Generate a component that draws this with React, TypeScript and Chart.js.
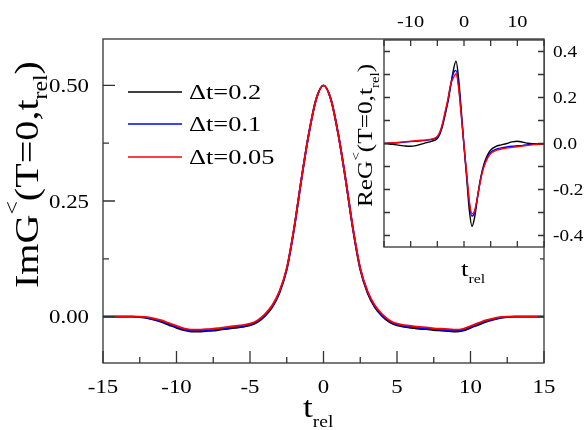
import React, { useEffect, useRef } from "react";
import { Chart, registerables } from "chart.js";

Chart.register(...registerables);

const FONT = "'Liberation Serif', 'Times New Roman', Times, serif";

// ---------- main panel data ----------
const mainT = [
  -15, -14.5, -14, -13.5, -13, -12.5, -12, -11.5, -11, -10.5, -10, -9.5, -9, -8.5, -8, -7.5, -7, -6.5, -6, -5.5,
  -5, -4.5, -4, -3.5, -3, -2.5, -2, -1.5, -1, -0.5, 0, 0.5, 1, 1.5, 2, 2.5, 3, 3.5, 4, 4.5, 5, 5.5, 6, 6.5, 7,
  7.5, 8, 8.5, 9, 9.5, 10, 10.5, 11, 11.5, 12, 12.5, 13, 13.5, 14, 14.5, 15,
];
const mainDt02 = [
  0, 0, 0, 0, 0, -0.001, -0.003, -0.007, -0.012, -0.018, -0.024, -0.029, -0.032, -0.032, -0.031, -0.03, -0.028,
  -0.026, -0.024, -0.022, -0.019, -0.012, 0.001, 0.02, 0.051, 0.102, 0.19, 0.297, 0.395, 0.47, 0.5, 0.47, 0.395,
  0.297, 0.19, 0.102, 0.051, 0.02, 0.001, -0.012, -0.019, -0.022, -0.024, -0.026, -0.027, -0.029, -0.03, -0.031,
  -0.032, -0.03, -0.024, -0.018, -0.012, -0.007, -0.003, -0.001, 0, 0, 0, 0, 0,
];
const mainDt01 = [
  0, 0, 0, 0, 0, -0.0005, -0.002, -0.0055, -0.01, -0.016, -0.022, -0.027, -0.03, -0.03, -0.029, -0.028, -0.026,
  -0.024, -0.022, -0.02, -0.017, -0.01, 0.003, 0.022, 0.053, 0.104, 0.191, 0.298, 0.395, 0.47, 0.5, 0.47, 0.395, 0.298,
  0.191, 0.104, 0.053, 0.022, 0.003, -0.01, -0.017, -0.02, -0.022, -0.024, -0.025, -0.027, -0.028, -0.029, -0.03,
  -0.028, -0.022, -0.016, -0.01, -0.0055, -0.002, -0.0005, 0, 0, 0, 0, 0,
];
const mainDt005 = [
  0, 0, 0, 0, 0, 0, -0.001, -0.004, -0.008, -0.014, -0.02, -0.025, -0.028, -0.028, -0.027, -0.026, -0.024, -0.022,
  -0.02, -0.018, -0.015, -0.008, 0.005, 0.024, 0.055, 0.105, 0.192, 0.298, 0.395, 0.47, 0.5, 0.47, 0.395, 0.298, 0.192,
  0.105, 0.055, 0.024, 0.005, -0.008, -0.015, -0.018, -0.02, -0.022, -0.023, -0.025, -0.026, -0.027, -0.028, -0.026,
  -0.02, -0.014, -0.008, -0.004, -0.001, 0, 0, 0, 0, 0, 0,
];

// ---------- inset data ----------
const insetT = [
  -15, -14, -13, -12, -11, -10, -9, -8, -7, -6, -5, -4.5, -4, -3.5, -3, -2.5, -2, -1.5, -1, -0.5, 0, 0.5, 1, 1.5, 2,
  2.5, 3, 3.5, 4, 4.5, 5, 6, 7, 8, 9, 10, 11, 12, 13, 14, 15,
];
const insetDt02 = [
  0, -0.002, -0.005, -0.008, -0.011, -0.012, -0.009, -0.003, 0.004, 0.01, 0.022, 0.042, 0.078, 0.128, 0.182, 0.25,
  0.318, 0.358, 0.28, 0.14, -0.01, -0.15, -0.29, -0.36, -0.32, -0.24, -0.165, -0.11, -0.072, -0.046, -0.028, -0.012,
  -0.006, 0.0, 0.007, 0.01, 0.006, 0.001, -0.001, -0.002, -0.002,
];
const insetDt01 = [
  0, 0.001, 0.002, 0.004, 0.006, 0.008, 0.01, 0.012, 0.014, 0.018, 0.028, 0.048, 0.085, 0.136, 0.19, 0.255, 0.305,
  0.318, 0.25, 0.125, -0.01, -0.135, -0.26, -0.316, -0.298, -0.238, -0.17, -0.115, -0.08, -0.055, -0.038, -0.025,
  -0.019, -0.015, -0.012, -0.01, -0.008, -0.005, -0.003, -0.002, -0.001,
];
const insetDt005 = [
  0, 0.002, 0.004, 0.006, 0.008, 0.01, 0.012, 0.014, 0.016, 0.02, 0.031, 0.052, 0.09, 0.142, 0.195, 0.258, 0.285,
  0.303, 0.24, 0.118, -0.01, -0.13, -0.25, -0.305, -0.292, -0.236, -0.172, -0.12, -0.085, -0.06, -0.043, -0.03,
  -0.024, -0.02, -0.017, -0.014, -0.011, -0.008, -0.005, -0.003, -0.002,
];

const seriesLabels = ["\u0394t=0.2", "\u0394t=0.1", "\u0394t=0.05"];
const seriesColors = ["#000000", "#0000ff", "#ff0000"];

// ticks
const mainXMajor = [-15, -10, -5, 0, 5, 10, 15];
const mainXMinor = [-12.5, -7.5, -2.5, 2.5, 7.5, 12.5];
const mainXLabels = ["-15", "-10", "-5", "0", "5", "10", "15"];
const mainYMajor = [0, 0.25, 0.5];
const mainYMinor = [0.125, 0.375];
const mainYLabels = ["0.00", "0.25", "0.50"];

const insetXTicks = [-15, -10, -5, 0, 5, 10, 15];
const insetXLabelVals = [-10, 0, 10];
const insetXLabels = ["-10", "0", "10"];
const insetYTicks = [-0.4, -0.3, -0.2, -0.1, 0, 0.1, 0.2, 0.3, 0.4];
const insetYLabelVals = [-0.4, -0.2, 0, 0.2, 0.4];
const insetYLabels = ["-0.4", "-0.2", "0.0", "0.2", "0.4"];

type Seg = { t: string; size: number; dy?: number };

function drawRich(
  ctx: CanvasRenderingContext2D,
  segs: Seg[],
  x: number,
  y: number,
  sx: number,
  align: "left" | "center" | "right" = "left",
  rot = false
) {
  ctx.save();
  ctx.translate(x, y);
  if (rot) ctx.rotate(-Math.PI / 2);
  ctx.scale(sx, 1);
  ctx.textBaseline = "alphabetic";
  ctx.textAlign = "left";
  let total = 0;
  for (const s of segs) {
    ctx.font = `${s.size}px ${FONT}`;
    total += ctx.measureText(s.t).width;
  }
  let cx = align === "center" ? -total / 2 : align === "right" ? -total : 0;
  ctx.fillStyle = "#000";
  for (const s of segs) {
    ctx.font = `${s.size}px ${FONT}`;
    ctx.fillText(s.t, cx, s.dy || 0);
    cx += ctx.measureText(s.t).width;
  }
  ctx.restore();
}

const FRAME = "#333";

const mainPlugin = {
  id: "mainDecor",
  afterDraw(chart: any) {
    const ctx = chart.ctx as CanvasRenderingContext2D;
    const { left, right, top, bottom } = chart.chartArea;
    const xs = chart.scales.x;
    const ys = chart.scales.y;
    ctx.save();
    ctx.strokeStyle = FRAME;
    ctx.lineWidth = 1.3;
    ctx.strokeRect(left, top, right - left, bottom - top);
    ctx.beginPath();
    for (const v of mainXMajor) {
      const px = xs.getPixelForValue(v);
      ctx.moveTo(px, bottom);
      ctx.lineTo(px, bottom - 12);
    }
    for (const v of mainXMinor) {
      const px = xs.getPixelForValue(v);
      ctx.moveTo(px, bottom);
      ctx.lineTo(px, bottom - 6);
    }
    for (const v of mainYMajor) {
      const py = ys.getPixelForValue(v);
      ctx.moveTo(left, py);
      ctx.lineTo(left + 12, py);
      ctx.moveTo(right, py);
      ctx.lineTo(right - 6, py);
    }
    for (const v of mainYMinor) {
      const py = ys.getPixelForValue(v);
      ctx.moveTo(left, py);
      ctx.lineTo(left + 6, py);
      ctx.moveTo(right, py);
      ctx.lineTo(right - 4, py);
    }
    ctx.stroke();
    ctx.restore();

    mainXMajor.forEach((v, i) => {
      drawRich(ctx, [{ t: mainXLabels[i], size: 19 }], xs.getPixelForValue(v), bottom + 30, 1.2, "center");
    });
    mainYMajor.forEach((v, i) => {
      drawRich(ctx, [{ t: mainYLabels[i], size: 19 }], left - 14, ys.getPixelForValue(v) + 6.5, 1.2, "right");
    });

    // x title
    drawRich(
      ctx,
      [
        { t: "t", size: 29 },
        { t: "rel", size: 16, dy: 10 },
      ],
      303,
      417,
      1.22,
      "left"
    );
    // y title
    drawRich(
      ctx,
      [
        { t: "ImG", size: 34 },
        { t: "<", size: 20, dy: -19 },
        { t: "(T=0,t", size: 34 },
        { t: "rel", size: 20, dy: 9 },
        { t: ")", size: 34 },
      ],
      38,
      288,
      1.18,
      "left",
      true
    );

    // legend
    const rows = [92, 124, 157];
    chart.data.datasets.forEach((ds: any) => {
      const y = rows[ds.legendIndex];
      ctx.save();
      ctx.strokeStyle = ds.borderColor;
      ctx.lineWidth = 1.5;
      ctx.beginPath();
      ctx.moveTo(128, y);
      ctx.lineTo(182, y);
      ctx.stroke();
      ctx.restore();
      drawRich(ctx, [{ t: ds.label, size: 22 }], 189, y + 7, 1.2, "left");
    });
  },
};

const insetPlugin = {
  id: "insetDecor",
  beforeDatasetsDraw(chart: any) {
    const ctx = chart.ctx as CanvasRenderingContext2D;
    const { left, right, top, bottom } = chart.chartArea;
    ctx.save();
    ctx.fillStyle = "#fff";
    ctx.fillRect(left, top, right - left, bottom - top);
    ctx.restore();
  },
  afterDraw(chart: any) {
    const ctx = chart.ctx as CanvasRenderingContext2D;
    const { left, right, top, bottom } = chart.chartArea;
    const xs = chart.scales.x;
    const ys = chart.scales.y;
    ctx.save();
    ctx.strokeStyle = FRAME;
    ctx.lineWidth = 1.3;
    ctx.strokeRect(left, top, right - left, bottom - top);
    ctx.beginPath();
    for (const v of insetXTicks) {
      const px = xs.getPixelForValue(v);
      ctx.moveTo(px, bottom);
      ctx.lineTo(px, bottom - 6);
      ctx.moveTo(px, top);
      ctx.lineTo(px, top + 6);
    }
    for (const v of insetYTicks) {
      const py = ys.getPixelForValue(v);
      ctx.moveTo(left, py);
      ctx.lineTo(left + 6, py);
      ctx.moveTo(right, py);
      ctx.lineTo(right - 6, py);
    }
    ctx.stroke();
    ctx.restore();

    insetXLabelVals.forEach((v, i) => {
      drawRich(ctx, [{ t: insetXLabels[i], size: 17 }], xs.getPixelForValue(v), top - 13, 1.2, "center");
    });
    insetYLabelVals.forEach((v, i) => {
      drawRich(ctx, [{ t: insetYLabels[i], size: 16 }], right + 9, ys.getPixelForValue(v) + 5.5, 1.2, "left");
    });

    drawRich(
      ctx,
      [
        { t: "t", size: 22 },
        { t: "rel", size: 13, dy: 7 },
      ],
      461,
      276,
      1.22,
      "left"
    );
    drawRich(
      ctx,
      [
        { t: "ReG", size: 22 },
        { t: "<", size: 13, dy: -12 },
        { t: "(T=0,t", size: 22 },
        { t: "rel", size: 13, dy: 7 },
        { t: ")", size: 22 },
      ],
      372,
      207,
      1.15,
      "left",
      true
    );
  },
};

function makeDatasets(t: number[], arrays: number[][], width: number) {
  return arrays.map((arr, i) => ({
    label: seriesLabels[i],
    legendIndex: i,
    data: t.map((x, j) => ({ x, y: arr[j] })),
    borderColor: seriesColors[i],
    backgroundColor: seriesColors[i],
    borderWidth: width,
    pointRadius: 0,
    fill: false,
    cubicInterpolationMode: "monotone" as const,
    order: 3 - i,
  }));
}

export default function App() {
  const mainRef = useRef<HTMLCanvasElement>(null);
  const insetRef = useRef<HTMLCanvasElement>(null);

  useEffect(() => {
    let main: Chart | null = null;
    let inset: Chart | null = null;
    let cancelled = false;

    const hiddenScale = (min: number, max: number, pos: string, size: number, horiz: boolean) => ({
      type: "linear" as const,
      position: pos,
      min,
      max,
      grid: { display: false },
      border: { display: false },
      ticks: { display: false },
      afterFit: (s: any) => {
        if (horiz) s.height = size;
        else s.width = size;
      },
    });

    const build = () => {
      if (cancelled) return;
      main = new Chart(mainRef.current!, {
        type: "line",
        data: { datasets: makeDatasets(mainT, [mainDt02, mainDt01, mainDt005], 1.8) as any },
        options: {
          responsive: false,
          animation: false,
          events: [],
          layout: { padding: { left: 0, top: 39, right: 43, bottom: 0 } },
          plugins: { legend: { display: false }, tooltip: { enabled: false } },
          scales: {
            x: hiddenScale(-15, 15, "bottom", 67, true) as any,
            y: hiddenScale(-0.1, 0.6, "left", 103, false) as any,
          },
        },
        plugins: [mainPlugin],
      });

      inset = new Chart(insetRef.current!, {
        type: "line",
        data: { datasets: makeDatasets(insetT, [insetDt02, insetDt01, insetDt005], 1.4) as any },
        options: {
          responsive: false,
          animation: false,
          events: [],
          layout: { padding: { left: 384, top: 40, right: 43, bottom: 183 } },
          plugins: { legend: { display: false }, tooltip: { enabled: false } },
          scales: {
            x: hiddenScale(-15, 15, "bottom", 0, true) as any,
            y: hiddenScale(-0.45, 0.45, "left", 0, false) as any,
          },
        },
        plugins: [insetPlugin],
      });
    };

    const fontsApi = (document as any).fonts;
    if (fontsApi && fontsApi.load) {
      Promise.all([
        fontsApi.load("20px 'Liberation Serif'"),
        fontsApi.load("20px 'Times New Roman'"),
      ])
        .catch(() => null)
        .then(build);
    } else {
      build();
    }

    return () => {
      cancelled = true;
      if (main) main.destroy();
      if (inset) inset.destroy();
    };
  }, []);

  return (
    <div style={{ position: "absolute", left: 0, top: 0, width: 587, height: 430, background: "#fff" }}>
      <canvas
        ref={mainRef}
        width={587}
        height={430}
        style={{ position: "absolute", left: 0, top: 0, width: 587, height: 430 }}
      />
      <canvas
        ref={insetRef}
        width={587}
        height={430}
        style={{ position: "absolute", left: 0, top: 0, width: 587, height: 430 }}
      />
    </div>
  );
}
